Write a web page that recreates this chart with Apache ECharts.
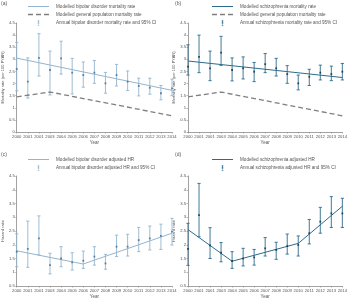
<!DOCTYPE html>
<html>
<head>
<meta charset="utf-8">
<script src="https://cdn.jsdelivr.net/npm/echarts@6/dist/echarts.min.js"></script>
<style>
  html, body { margin: 0; padding: 0; background: #fff; }
  #chart { width: 350px; height: 301px; }
</style>
</head>
<body>
<div id="chart"></div>
<script>
// x axis tick labels as printed (third label reads 2001 in the original)
var yearLabels = ['2000', '2001', '2001', '2003', '2004', '2005', '2006', '2007',
                  '2008', '2009', '2010', '2011', '2012', '2013', '2014'];
var years = [2000, 2001, 2002, 2003, 2004, 2005, 2006, 2007, 2008, 2009, 2010, 2011, 2012, 2013, 2014];

// (a) bipolar disorder mortality rate (per 100 PYAR)
var bipMortPoint = [2.6, 2.08, 3.06, 2.56, 3.04, 2.45, 2.35, 2.45, 2.01, 2.35, 2.08, 1.9, 1.83, 1.6, 1.8];
var bipMortLow   = [1.7, 1.40, 2.31, 1.53, 2.39, 1.57, 1.85, 2.01, 1.60, 1.90, 1.71, 1.49, 1.56, 1.33, 1.5];
var bipMortHigh  = [3.7, 3.06, 4.06, 3.34, 3.75, 3.04, 2.89, 2.95, 2.46, 2.79, 2.52, 2.22, 2.22, 1.92, 2.18];
var bipMortModel = [[2000, 3.05], [2014, 1.72]];

// general population mortality rate (same in a and b)
var genPopModel = [[2000, 1.45], [2003, 1.65], [2014, 0.67]];

// (b) schizophrenia mortality rate
var schMortPoint = [2.7, 3.1, 2.63, 3.28, 2.56, 2.63, 2.49, 2.8, 2.63, 2.39, 2.01, 2.28, 2.45, 2.39, 2.49];
var schMortLow   = [2.35, 2.45, 2.12, 2.75, 2.11, 2.19, 2.08, 2.45, 2.31, 2.01, 1.74, 1.92, 2.15, 2.12, 2.15];
var schMortHigh  = [3.6, 4.0, 3.34, 3.95, 3.06, 3.1, 2.87, 3.24, 3.04, 2.74, 2.35, 2.59, 2.76, 2.72, 2.83];
var schMortModel = [[2000, 2.93], [2014, 2.25]];

// (c) bipolar disorder adjusted HR
var bipHrPoint = [1.75, 1.85, 2.23, 1.26, 1.5, 1.36, 1.42, 1.57, 1.32, 1.93, 1.93, 2.17, 2.23, 2.32, 2.48];
var bipHrLow   = [1.2, 1.18, 1.63, 0.94, 1.2, 1.08, 1.14, 1.26, 1.11, 1.57, 1.59, 1.75, 1.81, 1.83, 1.99];
var bipHrHigh  = [2.4, 2.86, 3.05, 1.69, 1.93, 1.71, 1.77, 1.93, 1.65, 2.35, 2.38, 2.63, 2.68, 2.75, 2.96];
var bipHrModel = [[2000, 1.78], [2006, 1.3], [2014, 2.42]];

// (d) schizophrenia adjusted HR
var schHrPoint = [1.85, 3.08, 1.98, 1.71, 1.41, 1.5, 1.54, 1.87, 1.81, 1.95, 1.99, 2.42, 2.84, 3.14, 3.14];
var schHrLow   = [1.25, 2.29, 1.5, 1.38, 1.14, 1.23, 1.26, 1.59, 1.47, 1.66, 1.59, 2.03, 2.42, 2.63, 2.63];
var schHrHigh  = [2.78, 4.23, 2.62, 2.08, 1.75, 1.87, 1.83, 2.26, 2.09, 2.39, 2.32, 2.92, 3.36, 3.75, 3.69];
var schHrModel = [[2000, 2.55], [2004, 1.4], [2010, 2.05], [2014, 3.4]];

var bipColor = '#93b5cf';
var bipDot = '#46698a';
var schColor = '#2c6b8c';
var schDot = '#1b2b36';
var genColor = '#7f7f7f';
var textColor = '#555';
var axisColor = '#8a8a8a';

// legend icons: plain line, dashed line, CI bar with point
var lineIcon = 'path://M0,0 L21,0 L21,1 L0,1 Z';
var dashIcon = 'path://M0,0 L5,0 L5,1.3 L0,1.3 Z M8,0 L13,0 L13,1.3 L8,1.3 Z M16,0 L21,0 L21,1.3 L16,1.3 Z';
var ciIcon = 'path://M3,0 L7,0 L7,1 L5.5,1 L5.5,6 L7,6 L7,8 L3,8 L3,6 L4.5,6 L4.5,1 L3,1 Z M3.5,3 L6.5,3 L6.5,5 L3.5,5 Z M5.5,8 L5.5,13 L7,13 L7,14 L3,14 L3,13 L4.5,13 L4.5,8 Z';

function ciData(lo, hi) {
    var out = [];
    for (var i = 0; i < years.length; i++) out.push([years[i], lo[i], hi[i]]);
    return out;
}
function ptData(v) {
    var out = [];
    for (var i = 0; i < years.length; i++) out.push([years[i], v[i]]);
    return out;
}

function errorBars(color) {
    return function (params, api) {
        var x = api.value(0);
        var lo = api.coord([x, api.value(1)]);
        var hi = api.coord([x, api.value(2)]);
        var cap = 1.6;
        var st = { stroke: color, lineWidth: 0.9 };
        return {
            type: 'group',
            children: [
                { type: 'line', shape: { x1: lo[0], y1: lo[1], x2: hi[0], y2: hi[1] }, style: st },
                { type: 'line', shape: { x1: lo[0] - cap, y1: lo[1], x2: lo[0] + cap, y2: lo[1] }, style: st },
                { type: 'line', shape: { x1: hi[0] - cap, y1: hi[1], x2: hi[0] + cap, y2: hi[1] }, style: st }
            ]
        };
    };
}

var grids = [
    { left: 13, top: 23, width: 159, height: 109 },
    { left: 188, top: 23, width: 159, height: 109 },
    { left: 13, top: 176, width: 159, height: 110 },
    { left: 188, top: 176, width: 159, height: 110 }
];

var xAxes = [], yAxes = [];
for (var g = 0; g < 4; g++) {
    xAxes.push({
        type: 'value', gridIndex: g, min: 2000, max: 2014, interval: 1,
        name: 'Year', nameLocation: 'middle', nameGap: 8,
        nameTextStyle: { fontSize: 4.5, color: textColor, fontFamily: 'Arial' },
        splitLine: { show: false },
        axisLine: { lineStyle: { color: axisColor, width: 0.8 } },
        axisTick: { length: 1.5, lineStyle: { color: axisColor, width: 0.6 } },
        axisLabel: {
            fontSize: 4.2, color: textColor, margin: 3, fontFamily: 'Arial',
            formatter: function (v) { return yearLabels[v - 2000]; }
        }
    });
    var hr = g >= 2;
    yAxes.push({
        type: 'value', gridIndex: g, min: hr ? 0.5 : 0, max: 4.5, interval: 0.5,
        name: hr ? 'Hazard ratio' : 'Mortality rate (per 100 PYAR)',
        nameLocation: 'middle', nameGap: 7,
        nameTextStyle: { fontSize: 4, color: textColor, fontFamily: 'Arial' },
        splitLine: { show: false },
        axisLine: { show: true, lineStyle: { color: axisColor, width: 0.8 } },
        axisTick: { show: true, length: 1.5, lineStyle: { color: axisColor, width: 0.6 } },
        axisLabel: { fontSize: 4.2, color: textColor, margin: 2, fontFamily: 'Arial' }
    });
}

var series = [];
function addPanel(idx, modelName, model, ciName, lo, hi, pts, color, dot, withGen) {
    series.push({
        name: modelName, type: 'line', xAxisIndex: idx, yAxisIndex: idx,
        data: model, symbol: 'none', lineStyle: { color: color, width: 1 },
        itemStyle: { color: color }, z: 3
    });
    if (withGen) {
        series.push({
            name: 'Modelled general population mortality rate', type: 'line',
            xAxisIndex: idx, yAxisIndex: idx, data: genPopModel, symbol: 'none',
            lineStyle: { color: genColor, width: 1.3, type: [5, 3] },
            itemStyle: { color: genColor }
        });
    }
    series.push({
        name: ciName, type: 'custom', xAxisIndex: idx, yAxisIndex: idx,
        data: ciData(lo, hi), encode: { x: 0, y: [1, 2] },
        renderItem: errorBars(color), itemStyle: { color: color }, z: 2
    });
    series.push({
        name: ciName, type: 'scatter', xAxisIndex: idx, yAxisIndex: idx,
        data: ptData(pts), symbol: 'rect', symbolSize: 1.8,
        itemStyle: { color: dot }, z: 4
    });
}
addPanel(0, 'Modelled bipolar disorder mortality rate', bipMortModel,
    'Annual bipolar disorder mortality rate and 95% CI', bipMortLow, bipMortHigh, bipMortPoint, bipColor, bipDot, true);
addPanel(1, 'Modelled schizophrenia mortality rate', schMortModel,
    'Annual schizophrenia mortality rate and 95% CI', schMortLow, schMortHigh, schMortPoint, schColor, schDot, true);
addPanel(2, 'Modelled bipolar disorder adjusted HR', bipHrModel,
    'Annual bipolar disorder adjusted HR and 95% CI', bipHrLow, bipHrHigh, bipHrPoint, bipColor, bipDot, false);
addPanel(3, 'Modelled schizophrenia adjusted HR', schHrModel,
    'Annual schizophrenia adjusted HR and 95% CI', schHrLow, schHrHigh, schHrPoint, schColor, schDot, false);

function makeLegend(left, top, items) {
    return {
        left: left, top: top, orient: 'vertical', itemWidth: 21, itemHeight: 6,
        itemGap: 3, padding: 0, selectedMode: false,
        textStyle: { fontSize: 4.6, color: textColor, fontFamily: 'Arial', padding: [0, 0, 0, 2] },
        data: items
    };
}

var option = {
    animation: false,
    grid: grids,
    xAxis: xAxes,
    yAxis: yAxes,
    legend: [
        makeLegend(28, 4, [
            { name: 'Modelled bipolar disorder mortality rate', icon: lineIcon, itemStyle: { color: bipColor } },
            { name: 'Modelled general population mortality rate', icon: dashIcon, itemStyle: { color: genColor } },
            { name: 'Annual bipolar disorder mortality rate and 95% CI', icon: ciIcon, itemStyle: { color: bipColor } }
        ]),
        makeLegend(212, 4, [
            { name: 'Modelled schizophrenia mortality rate', icon: lineIcon, itemStyle: { color: schColor } },
            { name: 'Modelled general population mortality rate', icon: dashIcon, itemStyle: { color: genColor } },
            { name: 'Annual schizophrenia mortality rate and 95% CI', icon: ciIcon, itemStyle: { color: schColor } }
        ]),
        makeLegend(28, 157, [
            { name: 'Modelled bipolar disorder adjusted HR', icon: lineIcon, itemStyle: { color: bipColor } },
            { name: 'Annual bipolar disorder adjusted HR and 95% CI', icon: ciIcon, itemStyle: { color: bipColor } }
        ]),
        makeLegend(212, 157, [
            { name: 'Modelled schizophrenia adjusted HR', icon: lineIcon, itemStyle: { color: schColor } },
            { name: 'Annual schizophrenia adjusted HR and 95% CI', icon: ciIcon, itemStyle: { color: schColor } }
        ])
    ],
    graphic: [
        { type: 'text', left: 1, top: 1, style: { text: '(a)', fontSize: 5, fill: textColor, fontFamily: 'Arial' } },
        { type: 'text', left: 175, top: 1, style: { text: '(b)', fontSize: 5, fill: textColor, fontFamily: 'Arial' } },
        { type: 'text', left: 1, top: 152, style: { text: '(c)', fontSize: 5, fill: textColor, fontFamily: 'Arial' } },
        { type: 'text', left: 175, top: 152, style: { text: '(d)', fontSize: 5, fill: textColor, fontFamily: 'Arial' } }
    ],
    series: series
};

var chart = echarts.init(document.getElementById('chart'));
chart.setOption(option);
</script>
</body>
</html>
